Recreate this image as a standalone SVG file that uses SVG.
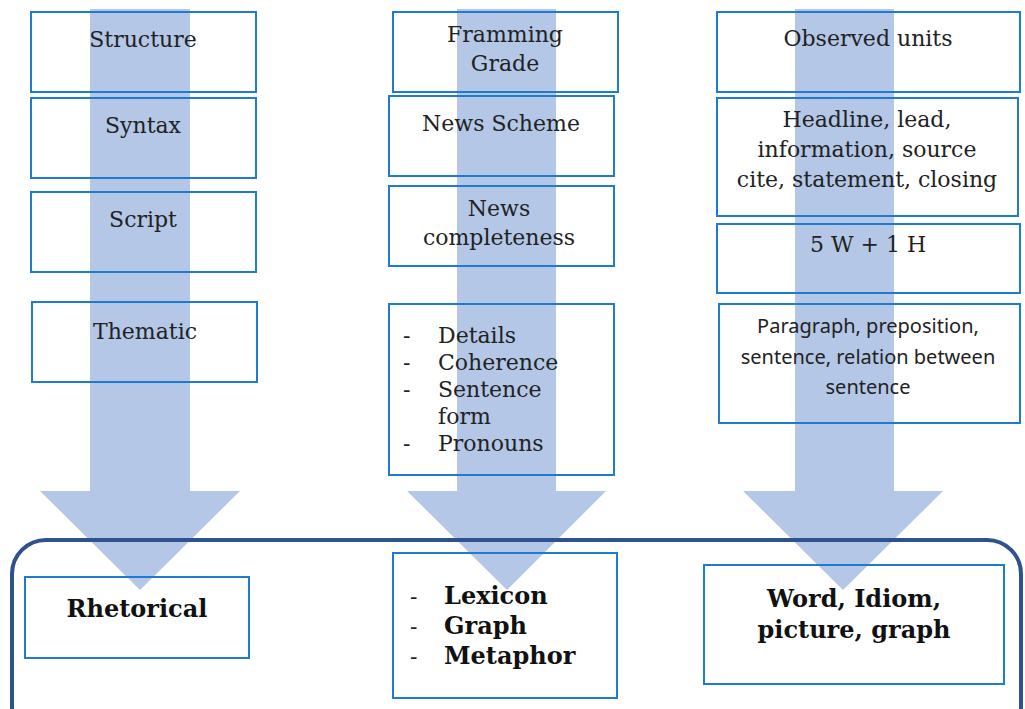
<svg xmlns="http://www.w3.org/2000/svg" width="1025" height="709" viewBox="0 0 1025 709">
<defs>
<style>
.arrow{fill:#b4c7e7}
.box{fill:none;stroke:#1f7bd0;stroke-width:2}
.t{font-family:"DejaVu Serif","Liberation Serif",serif;font-size:22px;fill:#222;text-anchor:middle}
.l{font-family:"DejaVu Serif","Liberation Serif",serif;font-size:22px;fill:#222}
.s{font-family:"Noto Sans","Open Sans",sans-serif;font-size:20px;fill:#222;text-anchor:middle}
.b{font-family:"DejaVu Serif","Liberation Serif",serif;font-size:24px;font-weight:bold;fill:#111;text-anchor:middle}
.bl{font-family:"DejaVu Serif","Liberation Serif",serif;font-size:24px;font-weight:bold;fill:#111}
.d{font-family:"DejaVu Serif","Liberation Serif",serif;font-size:22px;fill:#222}
.frame{fill:none;stroke:#2f528f;stroke-width:4}
</style>
</defs>
<rect width="1025" height="709" fill="#ffffff"/>
<g id="connectors">
<polygon class="arrow" points="90,9 190,9 190,491 240,491 140,590 40,491 90,491"/>
<polygon class="arrow" points="457,9 556,9 556,491 606,491 507,590 407,491 457,491"/>
<polygon class="arrow" points="795,9 894,9 894,491 943,491 843,590 743,491 795,491"/>
</g>
<g id="frame"><rect class="frame" x="12" y="540" width="1009" height="200" rx="34"/></g>
<g id="structure"><rect class="box" x="31" y="12" width="225" height="80"/><text class="t" x="143" y="47">Structure</text></g>
<g id="syntax"><rect class="box" x="31" y="98" width="225" height="80"/><text class="t" x="143" y="133">Syntax</text></g>
<g id="script"><rect class="box" x="31" y="192" width="225" height="80"/><text class="t" x="143" y="227">Script</text></g>
<g id="thematic"><rect class="box" x="32" y="302" width="225" height="80"/><text class="t" x="145" y="339">Thematic</text></g>
<g id="framming-grade"><rect class="box" x="393" y="12" width="225" height="80"/><text class="t" x="505" y="42">Framming</text><text class="t" x="505" y="71">Grade</text></g>
<g id="news-scheme"><rect class="box" x="389" y="96" width="225" height="80"/><text class="t" x="501" y="131">News Scheme</text></g>
<g id="news-completeness"><rect class="box" x="389" y="186" width="225" height="80"/><text class="t" x="499" y="216">News</text><text class="t" x="499" y="245">completeness</text></g>
<g id="details-list"><rect class="box" x="389" y="304" width="225" height="171"/>
<text class="l" x="403" y="343">-</text><text class="l" x="438" y="343">Details</text>
<text class="l" x="403" y="370">-</text><text class="l" x="438" y="370">Coherence</text>
<text class="l" x="403" y="397">-</text><text class="l" x="438" y="397">Sentence</text>
<text class="l" x="438" y="424">form</text>
<text class="l" x="403" y="451">-</text><text class="l" x="438" y="451">Pronouns</text></g>
<g id="observed-units"><rect class="box" x="717" y="12" width="303" height="80"/><text class="t" x="868" y="46">Observed units</text></g>
<g id="headline"><rect class="box" x="717" y="98" width="301" height="118"/><text class="t" x="867" y="127">Headline, lead,</text><text class="t" x="867" y="157">information, source</text><text class="t" x="867" y="187">cite, statement, closing</text></g>
<g id="five-w"><rect class="box" x="717" y="224" width="303" height="69"/><text class="t" x="868" y="252">5 W + 1 H</text></g>
<g id="paragraph"><rect class="box" x="719" y="304" width="301" height="119"/><text class="s" x="868" y="333">Paragraph, preposition,</text><text class="s" x="868" y="364">sentence, relation between</text><text class="s" x="868" y="394">sentence</text></g>
<g id="rhetorical"><rect class="box" x="25" y="577" width="224" height="81"/><text class="b" x="137" y="617">Rhetorical</text></g>
<g id="lexicon"><rect class="box" x="393" y="553" width="224" height="145"/>
<text class="d" x="410" y="604">-</text><text class="bl" x="444" y="604">Lexicon</text>
<text class="d" x="410" y="634">-</text><text class="bl" x="444" y="634">Graph</text>
<text class="d" x="410" y="664">-</text><text class="bl" x="444" y="664">Metaphor</text></g>
<g id="word-idiom"><rect class="box" x="704" y="565" width="300" height="119"/><text class="b" x="854" y="607">Word, Idiom,</text><text class="b" x="854" y="638">picture, graph</text></g>
</svg>
